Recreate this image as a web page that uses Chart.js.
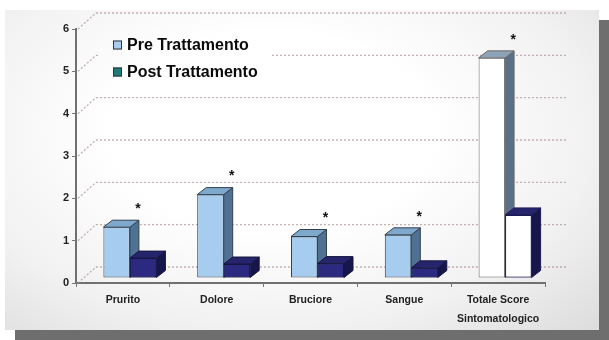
<!DOCTYPE html>
<html>
<head>
<meta charset="utf-8">
<script src="https://cdn.jsdelivr.net/npm/chart.js@4"></script>
<style>
  html, body { margin: 0; padding: 0; background: #fff; }
  #wrap { position: relative; width: 609px; height: 340px; overflow: hidden; }
  #panel {
    position: absolute; left: 5px; top: 10px; width: 594px; height: 320px;
    background: radial-gradient(ellipse at 45% 38%, #ffffff 35%, #f1f1f1 70%, #dcdcdc 100%);
    box-shadow: 10px 10px 0 #6e6e6e;
  }
  canvas { position: absolute; left: 0; top: 0; }
</style>
</head>
<body>
<div id="wrap">
  <div id="panel"></div>
  <canvas id="chart" width="609" height="340"></canvas>
</div>
<script>
  // --- data ---
  const categories = ['Prurito', 'Dolore', 'Bruciore', 'Sangue', ['Totale Score', 'Sintomatologico']];
  const preValues = [1.2, 1.97, 0.98, 1.02, 5.2];
  const postValues = [0.47, 0.33, 0.34, 0.24, 1.49];
  const significance = ['*', '*', '*', '*', '*'];
  const yTicks = [0, 1, 2, 3, 4, 5, 6];
  const seriesNames = ['Pre Trattamento', 'Post Trattamento'];

  // --- styles ---
  const PRE_FRONT = ['#a6cdef', '#a6cdef', '#a6cdef', '#a6cdef', '#ffffff'];
  const PRE_BORDER = ['#34414f', '#34414f', '#34414f', '#34414f', '#6a6a6a'];
  const PRE_SIDE = ['#4f7193', '#4f7193', '#4f7193', '#4f7193', '#5b6f87'];
  const PRE_TOP = ['#7fa8cd', '#7fa8cd', '#7fa8cd', '#7fa8cd', '#8ea2b8'];
  const POST_FRONT = ['#2b2a80', '#2b2a80', '#2b2a80', '#2b2a80', '#ffffff'];
  const POST_BORDER = ['#16163f', '#16163f', '#16163f', '#16163f', '#1c1b55'];
  const POST_SIDE = '#17164c';
  const POST_TOP = '#25246c';
  const LEGEND_SWATCH = ['#a9cdee', '#1f7a78'];
  const LEGEND_BOX = [100, 30, 172, 56]; // grid is hidden behind the legend

  const DEPTH_X = 9, DEPTH_Y = 7;     // bar depth
  const FLOOR_X = 7, FLOOR_Y = -5;    // bars stand back from the axis line
  const WALL_X = 20, WALL_Y = -16;    // back wall with the grid

  function drawFaces(ctx, el, side, top, border) {
    const { x, y, base, width } = el.getProps(['x', 'y', 'base', 'width'], true);
    const l = x - width / 2, r = x + width / 2;
    ctx.lineWidth = 1;
    ctx.strokeStyle = border;
    // side
    ctx.fillStyle = side;
    ctx.beginPath();
    ctx.moveTo(r, y);
    ctx.lineTo(r + DEPTH_X, y - DEPTH_Y);
    ctx.lineTo(r + DEPTH_X, base - DEPTH_Y);
    ctx.lineTo(r, base);
    ctx.closePath();
    ctx.fill(); ctx.stroke();
    // top
    ctx.fillStyle = top;
    ctx.beginPath();
    ctx.moveTo(l, y);
    ctx.lineTo(l + DEPTH_X, y - DEPTH_Y);
    ctx.lineTo(r + DEPTH_X, y - DEPTH_Y);
    ctx.lineTo(r, y);
    ctx.closePath();
    ctx.fill(); ctx.stroke();
  }

  const bars3d = {
    id: 'bars3d',
    beforeDatasetsDraw(chart) {
      const { ctx, chartArea, scales: { y }, width, height } = chart;
      // dotted grid on the back wall, left out behind the legend
      ctx.save();
      ctx.beginPath();
      ctx.rect(0, 0, width, height);
      ctx.rect(...LEGEND_BOX);
      ctx.clip('evenodd');
      ctx.strokeStyle = 'rgba(175,150,150,0.75)';
      ctx.lineWidth = 1.3;
      ctx.setLineDash([2, 2]);
      yTicks.forEach(v => {
        const py = y.getPixelForValue(v);
        ctx.beginPath();
        ctx.moveTo(chartArea.left + 2, py);
        ctx.lineTo(chartArea.left + WALL_X, py + WALL_Y);
        ctx.lineTo(chartArea.right + 22, py + WALL_Y);
        ctx.stroke();
      });
      ctx.restore();

      // legend
      ctx.save();
      ctx.font = 'bold 16px "Liberation Sans", Arial, sans-serif';
      ctx.textBaseline = 'middle';
      seriesNames.forEach((name, i) => {
        const cy = 45 + i * 27;
        ctx.fillStyle = LEGEND_SWATCH[i];
        ctx.fillRect(113, cy - 4.5, 9, 9);
        ctx.strokeStyle = '#333';
        ctx.lineWidth = 1;
        ctx.strokeRect(113.5, cy - 4, 8, 8);
        ctx.fillStyle = '#0a0a0a';
        ctx.fillText(name, 127, cy + 1);
      });
      ctx.restore();

      ctx.save();
      ctx.translate(FLOOR_X, FLOOR_Y);
    },
    afterDatasetsDraw(chart) {
      const { ctx } = chart;
      const pre = chart.getDatasetMeta(0).data;
      const post = chart.getDatasetMeta(1).data;
      pre.forEach((el, i) => drawFaces(ctx, el, PRE_SIDE[i], PRE_TOP[i], PRE_BORDER[i]));
      post.forEach((el, i) => {
        el.draw(ctx);
        drawFaces(ctx, el, POST_SIDE, POST_TOP, POST_BORDER[i]);
      });
      ctx.restore();

      // significance marks
      ctx.save();
      ctx.fillStyle = '#111';
      ctx.font = 'bold 14px "Liberation Sans", Arial, sans-serif';
      ctx.textAlign = 'center';
      ctx.textBaseline = 'middle';
      pre.forEach((el, i) => {
        if (!significance[i]) return;
        const { x, y, width } = el.getProps(['x', 'y', 'width'], true);
        ctx.fillText(significance[i], x + width / 2 + FLOOR_X + 8, y + FLOOR_Y - 18);
      });
      ctx.restore();
    }
  };

  new Chart(document.getElementById('chart'), {
    type: 'bar',
    data: {
      labels: categories,
      datasets: [
        {
          label: seriesNames[0],
          data: preValues,
          backgroundColor: PRE_FRONT,
          borderColor: PRE_BORDER,
          borderWidth: 1,
          borderSkipped: false,
          categoryPercentage: 0.565,
          barPercentage: 1,
          clip: false,
        },
        {
          label: seriesNames[1],
          data: postValues,
          backgroundColor: POST_FRONT,
          borderColor: POST_BORDER,
          borderWidth: 1,
          borderSkipped: false,
          categoryPercentage: 0.565,
          barPercentage: 1,
          clip: false,
        },
      ],
    },
    options: {
      responsive: false,
      animation: false,
      layout: { padding: { top: 29, right: 64, left: 0, bottom: 0 } },
      plugins: {
        legend: { display: false },
        tooltip: { enabled: false },
      },
      scales: {
        x: {
          ticks: {
            color: '#222',
            font: { family: '"Liberation Sans Narrow", "Liberation Sans", Arial', weight: 'bold', size: 10.5, lineHeight: 1.8 },
            padding: 4,
            maxRotation: 0,
            autoSkip: false,
          },
          grid: { display: true, drawOnChartArea: false, tickLength: 4, color: '#777', offset: true },
          border: { display: true, color: '#707070', width: 2 },
          afterFit(scale) { scale.height = 57; },
        },
        y: {
          min: 0,
          max: 6,
          afterBuildTicks(scale) { scale.ticks = yTicks.map(v => ({ value: v })); },
          ticks: {
            color: '#222',
            font: { family: '"Liberation Sans", Arial', weight: 'bold', size: 11 },
            padding: 3,
          },
          grid: { display: true, drawOnChartArea: false, tickLength: 4, color: '#777' },
          border: { display: true, color: '#707070', width: 2 },
          afterFit(scale) { scale.width = 76; },
        },
      },
    },
    plugins: [bars3d],
  });
</script>
</body>
</html>
